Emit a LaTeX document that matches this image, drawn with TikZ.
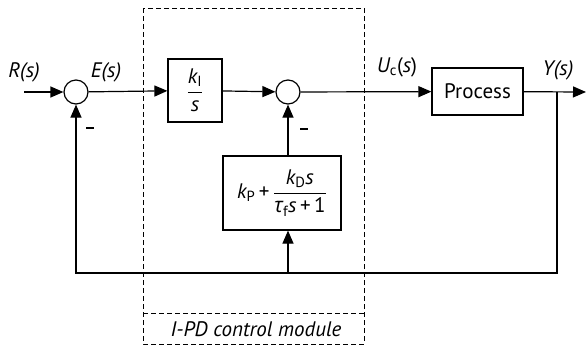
\documentclass[tikz,border=0pt]{standalone}
\usepackage{amsmath}
\usepackage{fontspec}
\setmainfont{PT Sans}
\newfontfamily\grk{Open Sans}
\usetikzlibrary{arrows.meta}
\newcommand{\vi}[1]{\text{\itshape #1}}
\newcommand{\vu}[1]{\text{#1}}
\begin{document}
\begin{tikzpicture}[x=1pt,y=-1pt,
  line width=1.2pt,
  font=\fontsize{21}{24}\selectfont,
  sumnode/.style={circle,draw,minimum size=24pt,inner sep=0pt},
  blk/.style={draw,inner sep=0pt},
  arr/.style={-{Triangle[length=13pt,width=11pt]}},
  lbl/.style={inner sep=0pt}]
\useasboundingbox (0,0) rectangle (586,346);
% module box
\draw[dashed,line width=1pt,dash pattern=on 5pt off 3pt] (143,8) rectangle (364,344);
\draw[dashed,line width=1pt,dash pattern=on 5pt off 3pt] (143,313) -- (364,313);
\node[lbl,font=\fontsize{21}{24}\selectfont\itshape] (mod) at (256,329) {I-PD control module};
% nodes
\node[sumnode] (s1) at (76,92) {};
\node[sumnode] (s2) at (288,92) {};
\node[blk,minimum width=54pt,minimum height=63pt] (ki) at (195,90.5) {$\dfrac{\vi{k}_{\vu{I}}}{\vi{s}}$};
\node[blk,minimum width=91pt,minimum height=47pt] (proc) at (477.5,91.5) {Process};
\node[blk,minimum width=118pt,minimum height=74pt] (pd) at (282,193) {$\vi{k}_{\vu{P}}\vu{\,+\,}\dfrac{\vi{k}_{\vu{D}}\vi{s}}{\vi{\grk τ}_{\vu{f}}\vi{s}\vu{\,+\,1}}$};
\coordinate (in) at (24,92);
\coordinate (tap) at (557,92);
\coordinate (out) at (586,92);
\coordinate (bl) at (76,273);
\coordinate (br) at (557,273);
\coordinate (bm) at (288,273);
% connectors
\draw[arr] (in) -- (s1);
\draw[arr] (s1) -- (ki);
\draw[arr] (ki) -- (s2);
\draw[arr] (s2) -- (proc);
\draw[arr] (proc) -- (out);
\draw[arr] (tap) -- (br) -- (bl) -- (s1);
\draw[arr] (bm) -- (pd.south -| bm);
\draw[arr] (pd.north -| s2) -- (s2);
% labels
\node[lbl] (lr) at (24,72) {\itshape R(s)};
\node[lbl] (le) at (106,72) {\itshape E(s)};
\node[lbl] (lu) at (397,67) {$\vi{U}_{\vu{c}}\vu{(}\vi{s}\vu{)}$};
\node[lbl] (ly) at (558,70) {\itshape Y(s)};
\node[lbl] (m1) at (90,128) {\rule{8pt}{1.1pt}};
\node[lbl] (m2) at (304,129) {\rule{8pt}{1.1pt}};
\end{tikzpicture}
\end{document}
